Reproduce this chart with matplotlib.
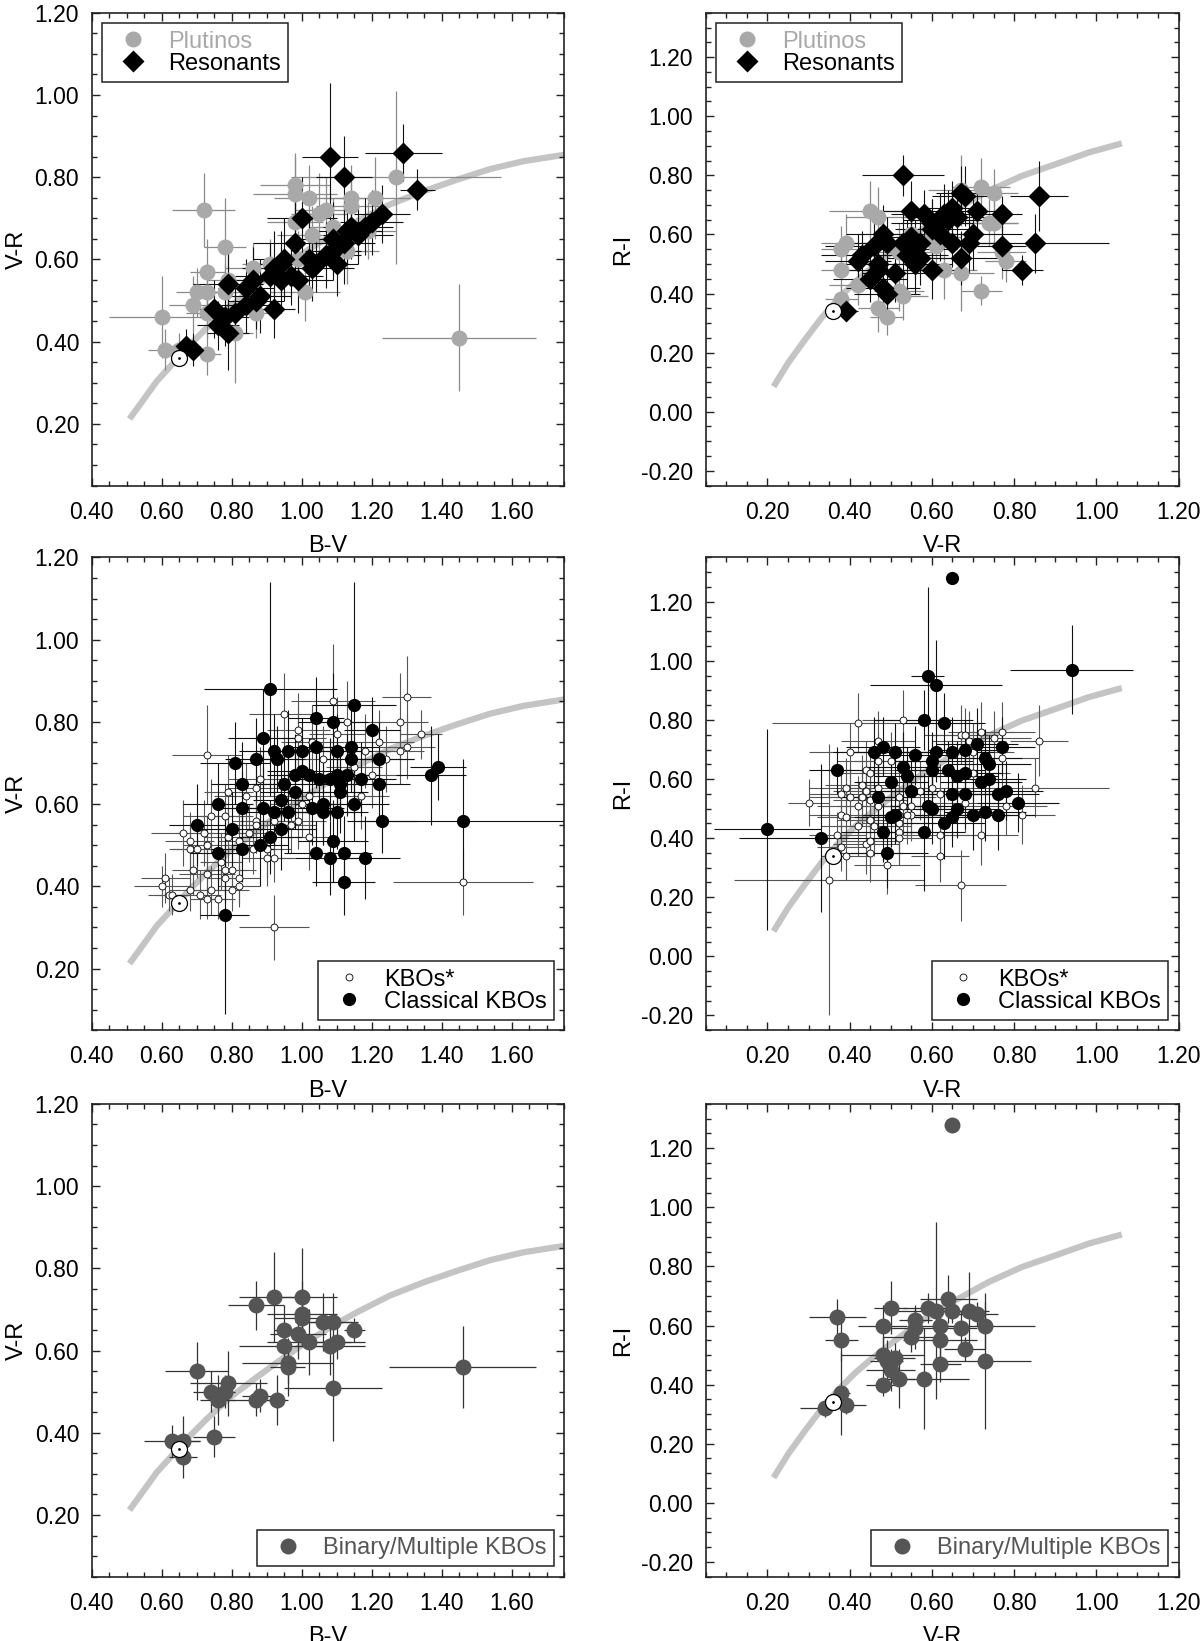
#!/usr/bin/env python3
"""
Colour-colour diagrams of KBOs (B-V / V-R and V-R / R-I), six panels.
"""

import matplotlib
matplotlib.use('Agg')
import matplotlib.pyplot as plt
from matplotlib.lines import Line2D
from matplotlib.ticker import MultipleLocator, FormatStrFormatter

plt.rcParams.update({
    'font.family': ['Liberation Sans', 'DejaVu Sans'],
    'font.size': 16.5,
    'axes.unicode_minus': False,
    'axes.linewidth': 1.2,
    'axes.edgecolor': '#222222',
})

# ---- reddening curves ----
curve_bv = [0.508, 0.548, 0.586, 0.633, 0.681, 0.729, 0.795, 0.871, 0.929, 1.005, 1.081, 1.157,
            1.252, 1.348, 1.443, 1.538, 1.633, 1.752]
curve_vr_left = [0.212, 0.259, 0.304, 0.348, 0.393, 0.434, 0.486, 0.535, 0.571, 0.616, 0.657, 0.693,
                 0.734, 0.766, 0.794, 0.820, 0.839, 0.855]
curve_vr = [0.215, 0.251, 0.292, 0.332, 0.373, 0.413, 0.454, 0.503, 0.576, 0.657, 0.738, 0.819,
            0.900, 0.981, 1.062]
curve_ri = [0.085, 0.166, 0.245, 0.318, 0.383, 0.439, 0.488, 0.541, 0.617, 0.685, 0.747, 0.798,
            0.837, 0.877, 0.908]

# ---- the Sun ----
sun_bv, sun_vr, sun_ri = 0.65, 0.36, 0.34

# ---- panel 1: Plutinos (B-V, V-R) ----
plu_bv = [0.60, 0.61, 0.65, 0.72, 0.78, 0.73, 0.70, 0.73, 0.69, 0.73, 0.73, 0.78, 0.79, 0.81, 0.86, 0.87,
          0.98, 0.98, 1.02, 0.98, 1.03, 1.05, 1.07, 1.09, 1.01, 1.14, 1.14, 1.13, 1.21, 1.27, 1.19, 1.45,
          0.99, 0.91]
plu_vr = [0.46, 0.38, 0.38, 0.72, 0.63, 0.57, 0.52, 0.52, 0.49, 0.47, 0.37, 0.52, 0.55, 0.42, 0.58, 0.47,
          0.78, 0.76, 0.75, 0.69, 0.66, 0.71, 0.72, 0.68, 0.52, 0.75, 0.73, 0.62, 0.75, 0.80, 0.67, 0.41,
          0.60, 0.59]
plu_bv_err = [0.15, 0.05, 0.05, 0.09, 0.06, 0.05, 0.06, 0.05, 0.07, 0.06, 0.04, 0.07, 0.06, 0.05, 0.08, 0.07,
              0.10, 0.12, 0.10, 0.08, 0.10, 0.08, 0.09, 0.07, 0.10, 0.08, 0.10, 0.09, 0.10, 0.30, 0.08, 0.22,
              0.08, 0.08]
plu_vr_err = [0.10, 0.05, 0.04, 0.09, 0.12, 0.08, 0.06, 0.07, 0.07, 0.06, 0.05, 0.07, 0.06, 0.12, 0.06, 0.06,
              0.08, 0.09, 0.08, 0.08, 0.07, 0.10, 0.08, 0.07, 0.07, 0.08, 0.08, 0.08, 0.10, 0.21, 0.07, 0.13,
              0.07, 0.06]

# ---- panel 1: Resonants (B-V, V-R) ----
res_bv = [1.08, 1.12, 1.29, 1.33, 1.00, 0.98, 0.79, 0.75, 0.67, 0.69, 0.76, 0.79, 0.78, 0.81, 0.84, 0.86,
          0.84, 0.87, 0.88, 0.92, 0.91, 0.92, 0.94, 0.95, 0.94, 0.97, 0.99, 1.02, 1.04, 1.03, 1.07, 1.10,
          1.09, 1.09, 1.12, 1.13, 1.14, 1.16, 1.18, 1.20, 1.23]
res_vr = [0.85, 0.80, 0.86, 0.77, 0.70, 0.64, 0.54, 0.48, 0.39, 0.38, 0.44, 0.42, 0.46, 0.47, 0.53, 0.55,
          0.49, 0.50, 0.51, 0.48, 0.56, 0.58, 0.59, 0.60, 0.55, 0.56, 0.55, 0.60, 0.59, 0.58, 0.61, 0.59,
          0.62, 0.65, 0.64, 0.67, 0.68, 0.66, 0.68, 0.69, 0.71]
res_bv_err = [0.08, 0.08, 0.11, 0.05, 0.10, 0.12, 0.10, 0.06, 0.04, 0.04, 0.06, 0.06, 0.07, 0.07, 0.08, 0.09,
              0.07, 0.08, 0.09, 0.06, 0.10, 0.09, 0.10, 0.09, 0.08, 0.09, 0.10, 0.09, 0.08, 0.12, 0.10, 0.06,
              0.08, 0.09, 0.09, 0.10, 0.08, 0.10, 0.08, 0.09, 0.08]
res_vr_err = [0.18, 0.10, 0.07, 0.05, 0.10, 0.10, 0.08, 0.07, 0.04, 0.04, 0.06, 0.09, 0.07, 0.06, 0.07, 0.08,
              0.07, 0.07, 0.09, 0.07, 0.08, 0.09, 0.08, 0.10, 0.08, 0.07, 0.08, 0.09, 0.07, 0.08, 0.08, 0.08,
              0.07, 0.09, 0.10, 0.08, 0.08, 0.07, 0.07, 0.08, 0.07]

# ---- panel 2: Plutinos (V-R, R-I) ----
plu2_vr = [0.39, 0.38, 0.38, 0.38, 0.42, 0.45, 0.47, 0.47, 0.49, 0.52, 0.53, 0.52, 0.63, 0.67, 0.67, 0.72,
           0.75, 0.72, 0.74, 0.75, 0.77, 0.78, 0.61, 0.60, 0.55]
plu2_ri = [0.57, 0.55, 0.48, 0.38, 0.43, 0.68, 0.66, 0.35, 0.32, 0.54, 0.39, 0.41, 0.48, 0.47, 0.75, 0.76,
           0.74, 0.41, 0.64, 0.64, 0.54, 0.51, 0.56, 0.59, 0.60]
plu2_vr_err = [0.06, 0.05, 0.05, 0.04, 0.07, 0.10, 0.08, 0.05, 0.04, 0.08, 0.06, 0.06, 0.08, 0.08, 0.08, 0.07,
               0.06, 0.05, 0.07, 0.06, 0.06, 0.05, 0.08, 0.07, 0.07]
plu2_ri_err = [0.10, 0.08, 0.08, 0.05, 0.07, 0.10, 0.10, 0.08, 0.06, 0.10, 0.08, 0.07, 0.10, 0.13, 0.12, 0.10,
               0.08, 0.05, 0.08, 0.08, 0.09, 0.07, 0.08, 0.09, 0.08]

# ---- panel 2: Resonants (V-R, R-I) ----
res2_vr = [0.53, 0.86, 0.77, 0.85, 0.82, 0.77, 0.69, 0.70, 0.68, 0.67, 0.71, 0.55, 0.58, 0.60, 0.62, 0.63,
           0.65, 0.64, 0.66, 0.60, 0.62, 0.65, 0.67, 0.60, 0.56, 0.55, 0.54, 0.56, 0.57, 0.57, 0.53, 0.51,
           0.48, 0.49, 0.46, 0.43, 0.42, 0.45, 0.47, 0.47, 0.48, 0.49, 0.39]
res2_ri = [0.80, 0.73, 0.67, 0.57, 0.48, 0.56, 0.57, 0.60, 0.73, 0.74, 0.68, 0.68, 0.67, 0.64, 0.65, 0.67,
           0.69, 0.65, 0.66, 0.62, 0.60, 0.57, 0.52, 0.48, 0.55, 0.59, 0.53, 0.50, 0.52, 0.57, 0.57, 0.47,
           0.60, 0.57, 0.56, 0.53, 0.51, 0.45, 0.50, 0.48, 0.42, 0.40, 0.34]
res2_vr_err = [0.10, 0.07, 0.05, 0.18, 0.05, 0.06, 0.10, 0.12, 0.08, 0.06, 0.08, 0.10, 0.08, 0.10, 0.09, 0.10,
               0.08, 0.09, 0.10, 0.09, 0.08, 0.10, 0.09, 0.08, 0.10, 0.09, 0.10, 0.09, 0.08, 0.09, 0.10, 0.08,
               0.09, 0.10, 0.12, 0.10, 0.08, 0.09, 0.10, 0.08, 0.09, 0.08, 0.03]
res2_ri_err = [0.07, 0.12, 0.06, 0.10, 0.05, 0.08, 0.10, 0.12, 0.10, 0.09, 0.10, 0.10, 0.08, 0.08, 0.09, 0.10,
               0.09, 0.10, 0.09, 0.10, 0.09, 0.08, 0.09, 0.10, 0.10, 0.09, 0.12, 0.10, 0.09, 0.10, 0.10, 0.10,
               0.10, 0.09, 0.10, 0.08, 0.09, 0.08, 0.10, 0.09, 0.10, 0.09, 0.03]

# ---- panel 3: KBOs* (B-V, V-R) ----
kbo_bv = [0.61, 0.60, 0.62, 0.63, 0.68, 0.71, 0.73, 0.74, 0.76, 0.66, 0.68, 0.68, 0.70, 0.72, 0.73, 0.74,
          0.73, 0.78, 0.79, 0.79, 0.77, 0.78, 0.80, 0.73, 0.69, 0.78, 0.82, 0.80, 0.82, 0.84, 0.87, 0.88,
          0.87, 0.87, 0.85, 0.82, 0.86, 0.90, 0.92, 0.90, 0.92, 0.95, 0.99, 0.99, 1.03, 1.06, 1.09, 1.13,
          1.10, 1.15, 1.18, 1.22, 1.24, 1.28, 1.30, 1.30, 1.28, 1.34, 1.20, 1.17, 1.02, 0.99, 0.97, 1.02,
          1.00, 1.46, 0.92]
kbo_vr = [0.42, 0.40, 0.38, 0.38, 0.39, 0.38, 0.37, 0.39, 0.37, 0.53, 0.51, 0.49, 0.49, 0.53, 0.50, 0.57,
          0.72, 0.57, 0.63, 0.52, 0.46, 0.44, 0.44, 0.43, 0.44, 0.42, 0.42, 0.39, 0.40, 0.62, 0.64, 0.66,
          0.56, 0.55, 0.53, 0.51, 0.49, 0.49, 0.47, 0.47, 0.56, 0.82, 0.78, 0.76, 0.75, 0.71, 0.85, 0.80,
          0.77, 0.69, 0.73, 0.75, 0.71, 0.80, 0.86, 0.74, 0.73, 0.77, 0.67, 0.62, 0.62, 0.56, 0.55, 0.52,
          0.60, 0.41, 0.30]
kbo_bv_err = [0.07, 0.08, 0.06, 0.05, 0.06, 0.06, 0.05, 0.07, 0.05, 0.09, 0.07, 0.06, 0.07, 0.08, 0.07, 0.08,
              0.10, 0.08, 0.07, 0.07, 0.06, 0.06, 0.07, 0.08, 0.06, 0.05, 0.06, 0.05, 0.06, 0.09, 0.08, 0.09,
              0.07, 0.08, 0.07, 0.06, 0.07, 0.07, 0.06, 0.07, 0.08, 0.10, 0.09, 0.08, 0.09, 0.08, 0.12, 0.10,
              0.08, 0.08, 0.09, 0.10, 0.08, 0.08, 0.07, 0.08, 0.07, 0.06, 0.09, 0.08, 0.08, 0.08, 0.07, 0.08,
              0.09, 0.20, 0.10]
kbo_vr_err = [0.06, 0.05, 0.04, 0.05, 0.05, 0.06, 0.05, 0.06, 0.05, 0.08, 0.07, 0.06, 0.07, 0.08, 0.07, 0.09,
              0.12, 0.08, 0.09, 0.07, 0.07, 0.06, 0.06, 0.07, 0.06, 0.06, 0.06, 0.05, 0.05, 0.08, 0.09, 0.08,
              0.08, 0.07, 0.07, 0.07, 0.06, 0.07, 0.06, 0.07, 0.08, 0.10, 0.09, 0.08, 0.09, 0.08, 0.14, 0.10,
              0.09, 0.08, 0.09, 0.08, 0.08, 0.12, 0.10, 0.08, 0.08, 0.06, 0.08, 0.08, 0.08, 0.07, 0.07, 0.08,
              0.08, 0.08, 0.08]

# ---- panel 3: Classical KBOs (B-V, V-R) ----
cla_bv = [0.91, 1.15, 1.04, 1.09, 1.20, 0.89, 0.81, 0.87, 0.92, 0.93, 0.96, 1.00, 1.04, 1.10, 1.14, 1.14,
          1.22, 0.83, 0.95, 0.98, 1.00, 1.02, 1.05, 1.08, 1.10, 1.11, 1.13, 1.17, 1.22, 1.37, 1.39, 0.76,
          0.83, 0.89, 0.92, 0.94, 0.96, 0.98, 1.03, 1.06, 1.06, 1.10, 1.11, 1.15, 0.70, 0.80, 0.94, 1.23,
          1.46, 0.91, 0.88, 0.83, 0.76, 1.09, 1.04, 1.08, 1.12, 1.18, 1.12, 0.78]
cla_vr = [0.88, 0.84, 0.81, 0.80, 0.78, 0.76, 0.70, 0.71, 0.73, 0.71, 0.73, 0.73, 0.74, 0.73, 0.74, 0.71,
          0.71, 0.65, 0.65, 0.67, 0.68, 0.67, 0.66, 0.66, 0.67, 0.65, 0.67, 0.66, 0.65, 0.67, 0.69, 0.60,
          0.59, 0.59, 0.58, 0.61, 0.58, 0.63, 0.59, 0.60, 0.58, 0.58, 0.63, 0.60, 0.55, 0.54, 0.54, 0.56,
          0.56, 0.52, 0.50, 0.49, 0.48, 0.51, 0.48, 0.47, 0.48, 0.47, 0.41, 0.33]
cla_bv_err = [0.19, 0.12, 0.08, 0.10, 0.08, 0.10, 0.10, 0.09, 0.10, 0.08, 0.09, 0.10, 0.09, 0.10, 0.08, 0.09,
              0.10, 0.09, 0.09, 0.08, 0.10, 0.09, 0.08, 0.10, 0.09, 0.08, 0.09, 0.10, 0.09, 0.10, 0.08, 0.10,
              0.08, 0.09, 0.10, 0.08, 0.09, 0.10, 0.09, 0.08, 0.10, 0.09, 0.08, 0.10, 0.08, 0.09, 0.10, 0.10,
              0.30, 0.09, 0.08, 0.09, 0.08, 0.10, 0.09, 0.10, 0.08, 0.10, 0.09, 0.07]
cla_vr_err = [0.26, 0.30, 0.10, 0.12, 0.08, 0.12, 0.10, 0.10, 0.09, 0.08, 0.10, 0.08, 0.10, 0.09, 0.10, 0.08,
              0.09, 0.10, 0.09, 0.10, 0.08, 0.09, 0.09, 0.10, 0.08, 0.09, 0.10, 0.09, 0.08, 0.12, 0.08, 0.10,
              0.09, 0.10, 0.08, 0.09, 0.10, 0.09, 0.09, 0.10, 0.08, 0.09, 0.10, 0.09, 0.10, 0.09, 0.10, 0.08,
              0.15, 0.09, 0.10, 0.08, 0.09, 0.10, 0.08, 0.09, 0.09, 0.10, 0.08, 0.24]

# ---- panel 4: KBOs* (V-R, R-I) ----
kbo2_vr = [0.42, 0.53, 0.40, 0.47, 0.47, 0.44, 0.45, 0.39, 0.38, 0.40, 0.43, 0.44, 0.43, 0.42, 0.45, 0.47,
           0.47, 0.38, 0.39, 0.42, 0.45, 0.46, 0.37, 0.38, 0.39, 0.44, 0.45, 0.45, 0.49, 0.52, 0.52, 0.52,
           0.52, 0.52, 0.53, 0.55, 0.54, 0.55, 0.57, 0.60, 0.62, 0.62, 0.62, 0.67, 0.35, 0.30, 0.67, 0.68,
           0.69, 0.72, 0.75, 0.77, 0.77, 0.70, 0.70, 0.68, 0.72, 0.78, 0.82, 0.85, 0.86, 0.50]
kbo2_ri = [0.79, 0.80, 0.69, 0.73, 0.66, 0.63, 0.62, 0.57, 0.55, 0.54, 0.58, 0.56, 0.54, 0.51, 0.53, 0.57,
           0.51, 0.48, 0.47, 0.44, 0.46, 0.44, 0.41, 0.37, 0.34, 0.38, 0.39, 0.35, 0.31, 0.42, 0.40, 0.45,
           0.48, 0.54, 0.51, 0.48, 0.48, 0.51, 0.56, 0.57, 0.55, 0.41, 0.34, 0.24, 0.26, 0.52, 0.75, 0.75,
           0.73, 0.76, 0.74, 0.76, 0.67, 0.69, 0.62, 0.52, 0.41, 0.51, 0.48, 0.57, 0.73, 0.66]
kbo2_vr_err = [0.21, 0.10, 0.10, 0.09, 0.10, 0.10, 0.09, 0.09, 0.08, 0.10, 0.09, 0.08, 0.09, 0.10, 0.09, 0.08,
               0.10, 0.08, 0.07, 0.09, 0.08, 0.09, 0.07, 0.06, 0.06, 0.08, 0.07, 0.08, 0.08, 0.09, 0.08, 0.09,
               0.10, 0.09, 0.08, 0.09, 0.08, 0.09, 0.10, 0.09, 0.08, 0.09, 0.07, 0.11, 0.23, 0.05, 0.09, 0.08,
               0.09, 0.08, 0.09, 0.08, 0.09, 0.10, 0.09, 0.08, 0.09, 0.10, 0.08, 0.18, 0.07, 0.09]
kbo2_ri_err = [0.10, 0.10, 0.10, 0.10, 0.10, 0.10, 0.09, 0.10, 0.09, 0.10, 0.10, 0.09, 0.10, 0.10, 0.09, 0.10,
               0.09, 0.09, 0.08, 0.10, 0.09, 0.10, 0.08, 0.08, 0.08, 0.10, 0.09, 0.10, 0.10, 0.10, 0.09, 0.10,
               0.10, 0.09, 0.10, 0.09, 0.10, 0.10, 0.10, 0.09, 0.10, 0.10, 0.09, 0.12, 0.46, 0.08, 0.10, 0.09,
               0.10, 0.10, 0.09, 0.10, 0.10, 0.10, 0.10, 0.10, 0.10, 0.10, 0.10, 0.10, 0.12, 0.10]

# ---- panel 4: Classical KBOs (V-R, R-I) ----
cla2_vr = [0.65, 0.94, 0.59, 0.61, 0.58, 0.63, 0.20, 0.33, 0.37, 0.46, 0.48, 0.51, 0.56, 0.53, 0.54, 0.50,
           0.55, 0.47, 0.51, 0.50, 0.48, 0.49, 0.58, 0.59, 0.60, 0.60, 0.61, 0.60, 0.65, 0.68, 0.71, 0.77,
           0.73, 0.74, 0.64, 0.66, 0.68, 0.72, 0.74, 0.65, 0.68, 0.76, 0.78, 0.81, 0.70, 0.73, 0.76, 0.66,
           0.65, 0.63]
cla2_ri = [1.28, 0.97, 0.95, 0.92, 0.80, 0.79, 0.43, 0.40, 0.63, 0.69, 0.71, 0.69, 0.68, 0.64, 0.61, 0.59,
           0.56, 0.54, 0.48, 0.47, 0.42, 0.35, 0.42, 0.51, 0.50, 0.66, 0.69, 0.63, 0.69, 0.70, 0.72, 0.71,
           0.67, 0.65, 0.63, 0.61, 0.62, 0.59, 0.60, 0.55, 0.55, 0.55, 0.56, 0.52, 0.48, 0.49, 0.48, 0.50,
           0.47, 0.45]
cla2_vr_err = [0.00, 0.15, 0.04, 0.16, 0.12, 0.10, 0.13, 0.20, 0.07, 0.10, 0.09, 0.10, 0.10, 0.09, 0.08, 0.09,
               0.10, 0.09, 0.08, 0.09, 0.10, 0.10, 0.10, 0.09, 0.10, 0.10, 0.08, 0.09, 0.10, 0.09, 0.10, 0.08,
               0.09, 0.10, 0.09, 0.10, 0.09, 0.10, 0.09, 0.10, 0.09, 0.10, 0.09, 0.10, 0.09, 0.10, 0.09, 0.10,
               0.09, 0.10]
cla2_ri_err = [0.00, 0.15, 0.30, 0.15, 0.10, 0.10, 0.34, 0.25, 0.08, 0.12, 0.10, 0.10, 0.10, 0.12, 0.10, 0.10,
               0.10, 0.12, 0.10, 0.10, 0.10, 0.12, 0.20, 0.10, 0.12, 0.10, 0.10, 0.10, 0.12, 0.10, 0.12, 0.10,
               0.10, 0.10, 0.10, 0.12, 0.10, 0.12, 0.10, 0.10, 0.12, 0.10, 0.10, 0.10, 0.12, 0.10, 0.12, 0.10,
               0.10, 0.12]

# ---- panel 5: Binary/Multiple KBOs (B-V, V-R) ----
bin_bv = [0.87, 0.92, 1.00, 1.00, 1.00, 1.06, 1.09, 1.15, 0.95, 0.99, 1.02, 0.95, 1.10, 1.08, 0.96, 0.96,
          1.09, 1.46, 0.70, 0.79, 0.74, 0.78, 0.76, 0.87, 0.88, 0.93, 0.75, 0.63, 0.66, 0.66]
bin_vr = [0.71, 0.73, 0.73, 0.69, 0.68, 0.67, 0.67, 0.65, 0.65, 0.64, 0.62, 0.61, 0.62, 0.61, 0.57, 0.56,
          0.51, 0.56, 0.55, 0.52, 0.50, 0.50, 0.48, 0.48, 0.49, 0.48, 0.39, 0.38, 0.38, 0.34]
bin_bv_err = [0.08, 0.10, 0.10, 0.10, 0.08, 0.08, 0.07, 0.03, 0.03, 0.08, 0.12, 0.13, 0.08, 0.10, 0.13, 0.05,
              0.14, 0.21, 0.09, 0.11, 0.05, 0.03, 0.05, 0.07, 0.05, 0.03, 0.06, 0.08, 0.05, 0.04]
bin_vr_err = [0.06, 0.11, 0.12, 0.08, 0.07, 0.07, 0.07, 0.03, 0.06, 0.06, 0.08, 0.05, 0.04, 0.07, 0.05, 0.07,
              0.13, 0.10, 0.07, 0.08, 0.05, 0.04, 0.06, 0.04, 0.04, 0.06, 0.05, 0.04, 0.06, 0.05]

# ---- panel 6: Binary/Multiple KBOs (V-R, R-I) ----
bin2_vr = [0.65, 0.37, 0.38, 0.38, 0.34, 0.39, 0.50, 0.48, 0.48, 0.49, 0.51, 0.50, 0.52, 0.48, 0.55, 0.56,
           0.56, 0.59, 0.61, 0.62, 0.62, 0.64, 0.65, 0.58, 0.62, 0.67, 0.68, 0.69, 0.71, 0.73, 0.73]
bin2_ri = [1.28, 0.63, 0.55, 0.37, 0.32, 0.33, 0.66, 0.60, 0.50, 0.48, 0.49, 0.45, 0.42, 0.40, 0.56, 0.59,
           0.62, 0.66, 0.65, 0.60, 0.55, 0.69, 0.65, 0.42, 0.47, 0.59, 0.52, 0.65, 0.64, 0.60, 0.48]
bin2_vr_err = [0.00, 0.07, 0.04, 0.02, 0.06, 0.05, 0.04, 0.06, 0.10, 0.04, 0.05, 0.06, 0.04, 0.04, 0.07, 0.06,
               0.04, 0.06, 0.10, 0.06, 0.09, 0.07, 0.05, 0.11, 0.05, 0.04, 0.05, 0.05, 0.05, 0.12, 0.11]
bin2_ri_err = [0.00, 0.06, 0.07, 0.14, 0.03, 0.03, 0.09, 0.07, 0.06, 0.07, 0.05, 0.07, 0.10, 0.04, 0.05, 0.07,
               0.05, 0.05, 0.30, 0.06, 0.06, 0.08, 0.04, 0.17, 0.06, 0.06, 0.04, 0.13, 0.04, 0.08, 0.23]

GRAY_PT = '#a9a9a9'
BIN_COL = '#555555'
CURVE_COL = '#c4c4c4'


def style_axes(ax, left_col):
    if left_col:
        ax.set_xlim(0.40, 1.75)
        ax.set_ylim(0.05, 1.20)
        ax.set_xlabel('B-V', labelpad=8, fontsize=17)
        ax.set_ylabel('V-R', labelpad=5, fontsize=17)
    else:
        ax.set_xlim(0.05, 1.20)
        ax.set_ylim(-0.25, 1.35)
        ax.set_xlabel('V-R', labelpad=8, fontsize=17)
        ax.set_ylabel('R-I', labelpad=5, fontsize=17)
    for axis in (ax.xaxis, ax.yaxis):
        axis.set_major_locator(MultipleLocator(0.2))
        axis.set_minor_locator(MultipleLocator(0.05))
        axis.set_major_formatter(FormatStrFormatter('%.2f'))
    ax.tick_params(which='both', direction='in', top=True, right=True, color='#222222', width=1.0)
    ax.tick_params(which='major', length=6)
    ax.tick_params(which='minor', length=3.5)
    ax.tick_params(axis='x', which='major', pad=11, labelsize=16.5)
    ax.tick_params(axis='y', which='major', pad=9, labelsize=16.5)


def draw_curve_and_sun(ax, left_col):
    if left_col:
        ax.plot(curve_bv, curve_vr_left, color=CURVE_COL, lw=4.5, solid_capstyle='butt',
                solid_joinstyle='round', zorder=1)
        sx, sy = sun_bv, sun_vr
    else:
        ax.plot(curve_vr, curve_ri, color=CURVE_COL, lw=4.5, solid_capstyle='butt',
                solid_joinstyle='round', zorder=1)
        sx, sy = sun_vr, sun_ri
    ax.plot([sx], [sy], 'o', ms=11.5, mfc='white', mec='black', mew=0.9, zorder=10)
    ax.plot([sx], [sy], 'o', ms=1.0, color='black', zorder=11)


def add_legend(ax, handles, labels, colors, loc):
    leg = ax.legend(handles, labels, loc=loc, fontsize=17, labelcolor=colors,
                    frameon=True, fancybox=False, edgecolor='#222222', framealpha=1,
                    borderpad=0.3, labelspacing=0.0, handlelength=2.0,
                    handletextpad=0.5, borderaxespad=0.45)
    leg.get_frame().set_linewidth(1.1)
    leg.set_zorder(20)


def main():
    fig = plt.figure(figsize=(12, 16.41), dpi=100)
    xl, xr, w, h = 0.0764, 0.5881, 0.3940, 0.2881
    rows = [0.7041, 0.3722, 0.0392]
    axes = [[fig.add_axes([xl, y, w, h]), fig.add_axes([xr, y, w, h])] for y in rows]

    # row 1: Plutinos and Resonants
    ax = axes[0][0]
    draw_curve_and_sun(ax, True)
    ax.errorbar(plu_bv, plu_vr, xerr=plu_bv_err, yerr=plu_vr_err, fmt='none', ecolor='#8a8a8a',
                elinewidth=0.9, capsize=0, zorder=2)
    ax.errorbar(res_bv, res_vr, xerr=res_bv_err, yerr=res_vr_err, fmt='none', ecolor='#111111',
                elinewidth=0.8, capsize=0, zorder=3)
    ax.plot(plu_bv, plu_vr, 'o', ms=11.5, color=GRAY_PT, mec='none', zorder=4)
    ax.plot(res_bv, res_vr, 'D', ms=11, color='black', mec='none', zorder=5)

    ax = axes[0][1]
    draw_curve_and_sun(ax, False)
    ax.errorbar(plu2_vr, plu2_ri, xerr=plu2_vr_err, yerr=plu2_ri_err, fmt='none', ecolor='#8a8a8a',
                elinewidth=0.9, capsize=0, zorder=2)
    ax.errorbar(res2_vr, res2_ri, xerr=res2_vr_err, yerr=res2_ri_err, fmt='none', ecolor='#111111',
                elinewidth=0.8, capsize=0, zorder=3)
    ax.plot(plu2_vr, plu2_ri, 'o', ms=11.5, color=GRAY_PT, mec='none', zorder=4)
    ax.plot(res2_vr, res2_ri, 'D', ms=11, color='black', mec='none', zorder=5)

    h_plu = Line2D([], [], ls='none', marker='o', ms=11.5, color=GRAY_PT, mec='none')
    h_res = Line2D([], [], ls='none', marker='D', ms=11, color='black', mec='none')
    for ax in axes[0]:
        add_legend(ax, [h_plu, h_res], ['Plutinos', 'Resonants'], [GRAY_PT, 'black'], 'upper left')

    # row 2: KBOs* and Classical KBOs
    ax = axes[1][0]
    draw_curve_and_sun(ax, True)
    ax.errorbar(kbo_bv, kbo_vr, xerr=kbo_bv_err, yerr=kbo_vr_err, fmt='none', ecolor='#555555',
                elinewidth=0.8, capsize=0, zorder=2)
    ax.errorbar(cla_bv, cla_vr, xerr=cla_bv_err, yerr=cla_vr_err, fmt='none', ecolor='#111111',
                elinewidth=0.8, capsize=0, zorder=3)
    ax.plot(kbo_bv, kbo_vr, 'o', ms=5, mfc='white', mec='black', mew=0.6, zorder=4)
    ax.plot(cla_bv, cla_vr, 'o', ms=9.5, color='black', mec='none', zorder=5)

    ax = axes[1][1]
    draw_curve_and_sun(ax, False)
    ax.errorbar(kbo2_vr, kbo2_ri, xerr=kbo2_vr_err, yerr=kbo2_ri_err, fmt='none', ecolor='#555555',
                elinewidth=0.8, capsize=0, zorder=2)
    ax.errorbar(cla2_vr, cla2_ri, xerr=cla2_vr_err, yerr=cla2_ri_err, fmt='none', ecolor='#111111',
                elinewidth=0.8, capsize=0, zorder=3)
    ax.plot(kbo2_vr, kbo2_ri, 'o', ms=5, mfc='white', mec='black', mew=0.6, zorder=4)
    ax.plot(cla2_vr, cla2_ri, 'o', ms=9.5, color='black', mec='none', zorder=5)

    h_kbo = Line2D([], [], ls='none', marker='o', ms=5, mfc='white', mec='black', mew=0.6)
    h_cla = Line2D([], [], ls='none', marker='o', ms=9.5, color='black', mec='none')
    for ax in axes[1]:
        add_legend(ax, [h_kbo, h_cla], ['KBOs*', 'Classical KBOs'], ['black', 'black'], 'lower right')

    # row 3: Binary/Multiple KBOs
    ax = axes[2][0]
    draw_curve_and_sun(ax, True)
    ax.errorbar(bin_bv, bin_vr, xerr=bin_bv_err, yerr=bin_vr_err, fmt='none', ecolor='#333333',
                elinewidth=0.9, capsize=0, zorder=2)
    ax.plot(bin_bv, bin_vr, 'o', ms=11.5, color=BIN_COL, mec='none', zorder=4)

    ax = axes[2][1]
    draw_curve_and_sun(ax, False)
    ax.errorbar(bin2_vr, bin2_ri, xerr=bin2_vr_err, yerr=bin2_ri_err, fmt='none', ecolor='#333333',
                elinewidth=0.9, capsize=0, zorder=2)
    ax.plot(bin2_vr, bin2_ri, 'o', ms=11.5, color=BIN_COL, mec='none', zorder=4)

    h_bin = Line2D([], [], ls='none', marker='o', ms=11.5, color=BIN_COL, mec='none')
    for ax in axes[2]:
        add_legend(ax, [h_bin], ['Binary/Multiple KBOs'], [BIN_COL], 'lower right')

    for r in range(3):
        style_axes(axes[r][0], True)
        style_axes(axes[r][1], False)

    fig.savefig('out.png', dpi=100)


if __name__ == '__main__':
    main()
